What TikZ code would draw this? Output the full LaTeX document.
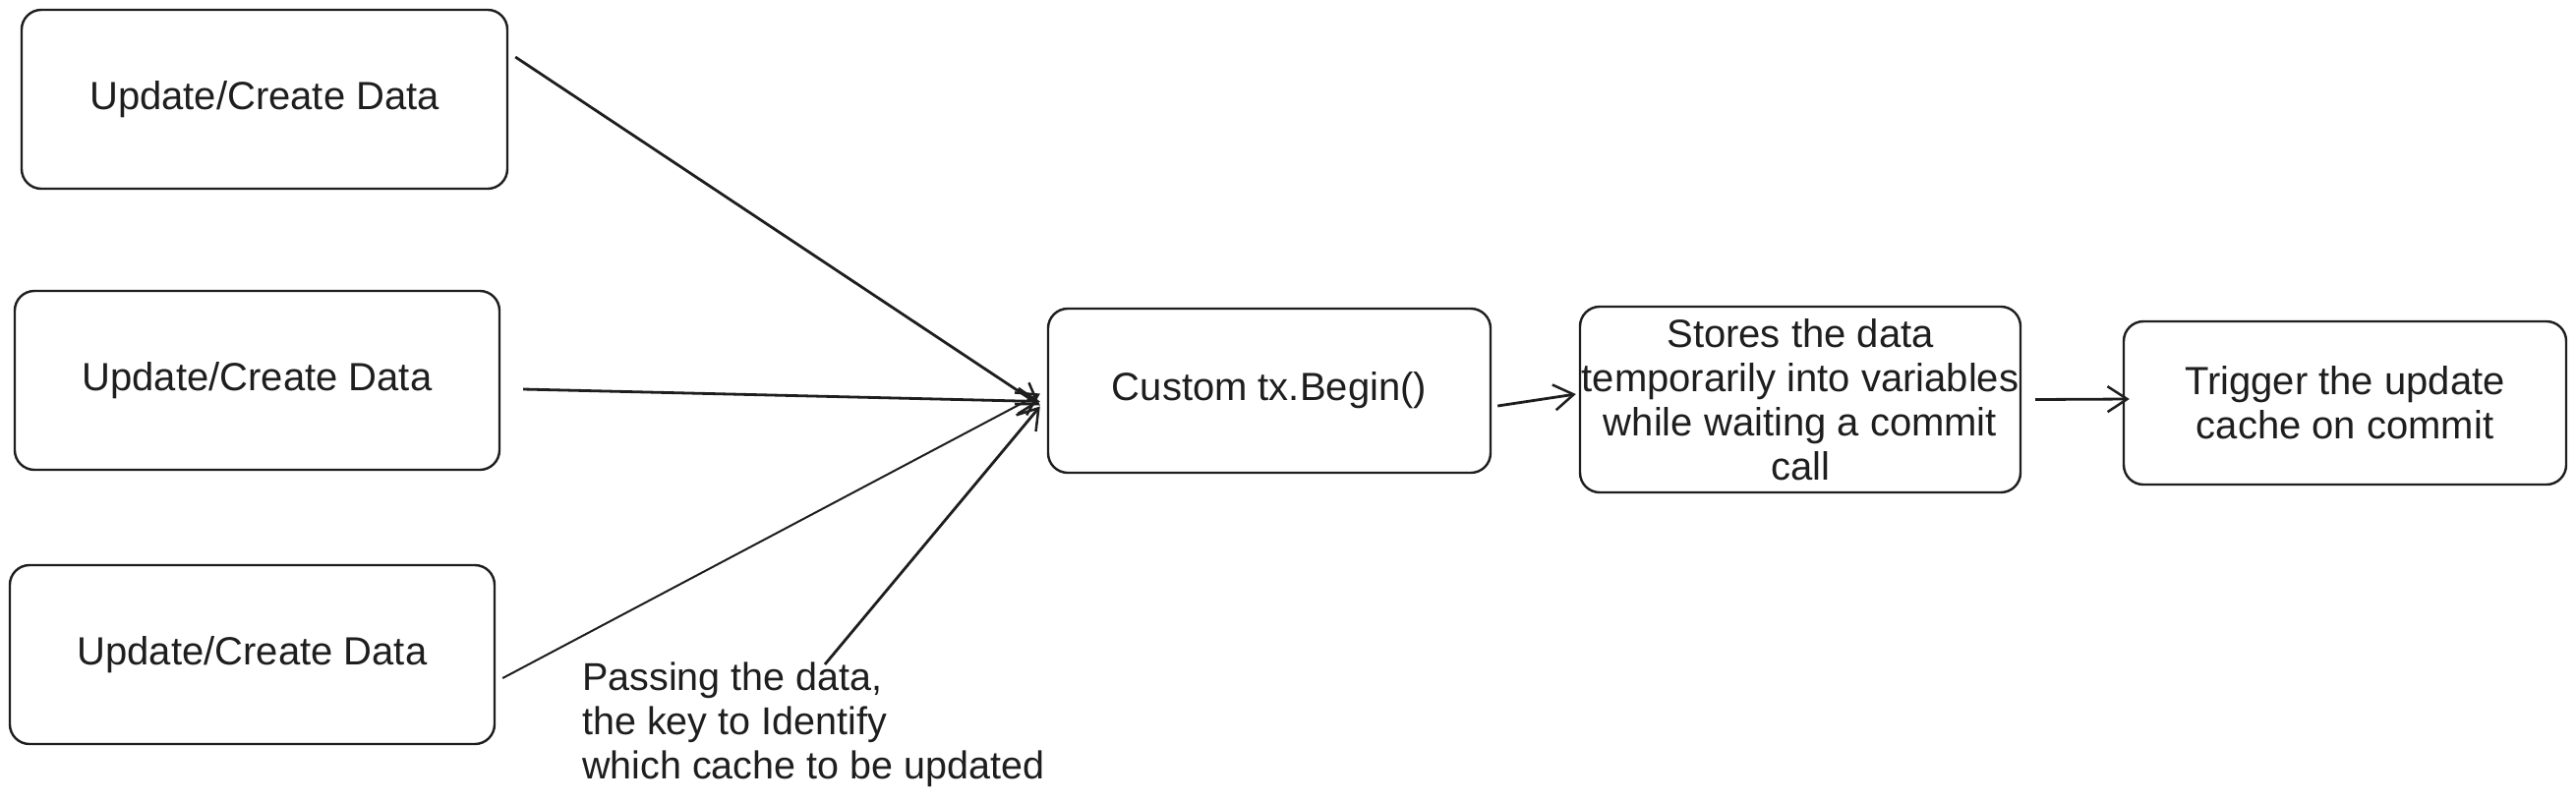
\documentclass[tikz,border=0pt]{standalone}
\usepackage{fontspec}
\setmainfont{Liberation Sans}
\usetikzlibrary{arrows.meta,calc}
\definecolor{ink}{HTML}{1E1E1E}
\begin{document}
\begin{tikzpicture}[x=1pt,y=-1pt,
  boxa/.style={draw=ink,line width=2.4pt,rounded corners=20pt,fill=white,
    text=ink,align=center,font=\fontsize{40}{45}\selectfont,inner sep=0pt},
  conn/.style={draw=ink,line width=2.8pt,-{Straight Barb[length=20pt,width=26pt,line width=2.5pt]}},
  lbl/.style={text=ink,align=left,font=\fontsize{39.5}{45}\selectfont,inner sep=0pt,anchor=north west}]
\useasboundingbox[fill=white] (0,0) rectangle (2620,815);
\node[boxa,minimum width=494pt,minimum height=182pt] (b1) at (269,101) {Update/Create Data};
\node[boxa,minimum width=493pt,minimum height=182pt] (b2) at (261.5,387) {Update/Create Data};
\node[boxa,minimum width=493pt,minimum height=182pt] (b3) at (256.5,666) {Update/Create Data};
\node[boxa,minimum width=450pt,minimum height=167pt] (cu) at (1291,397.5) {Custom tx.Begin()};
\node[boxa,minimum width=448pt,minimum height=189pt] (st) at (1831,406.5) {Stores the data\\temporarily into variables\\while waiting a commit\\call};
\node[boxa,minimum width=450pt,minimum height=166pt] (tr) at (2385,410) {Trigger the update\\cache on commit};
\node[lbl] (lab) at (592,674) {Passing the data,\\the key to Identify\\which cache to be updated};
\draw[conn] ([xshift=7pt,yshift=43pt]b1.east) -- ([xshift=-7pt,yshift=-15pt]cu.west);
\draw[conn] ([xshift=23pt,yshift=-9pt]b2.east) -- ([xshift=-7pt,yshift=-11pt]cu.west);
\draw[conn,line width=2pt] ([xshift=7pt,yshift=-24pt]b3.east) -- ([xshift=-7pt,yshift=-3pt]cu.west);
\draw[conn] ([xshift=247pt,yshift=-2pt]lab.north west) -- ([xshift=-7pt,yshift=-16pt]cu.west);
\draw[conn] ([xshift=6pt,yshift=-15.5pt]cu.east) -- ([xshift=-3pt,yshift=5.5pt]st.west);
\draw[conn] ([xshift=14pt]st.east) -- ([xshift=7pt,yshift=4pt]tr.west);
\end{tikzpicture}
\end{document}
